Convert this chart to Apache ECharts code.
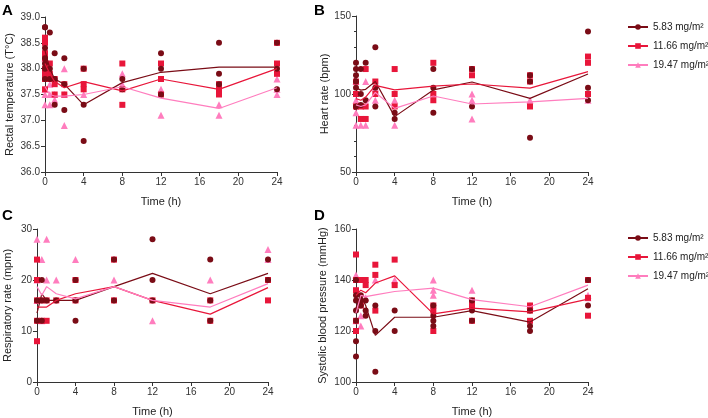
<!DOCTYPE html>
<html>
<head>
<meta charset="utf-8">
<script src="https://cdn.jsdelivr.net/npm/echarts@6/dist/echarts.min.js"></script>
<style>
  html, body { margin: 0; padding: 0; background: #fff; }
  #chart { width: 708px; height: 418px; }
</style>
</head>
<body>
<div id="chart"></div>
<script>
// sampling times (h), shared by every panel
const times = [0, 0.5, 1, 2, 4, 8, 12, 18, 24];
const doses = ["5.83 mg/m²", "11.66 mg/m²", "19.47 mg/m²"];

// A - rectal temperature, one list of values per time point
const tempLow = [[38.8, 38.8, 38.4, 38.2, 38.1, 38.0, 37.8], [38.7, 38.0, 37.8], [38.3, 37.8, 37.3], [38.2, 37.7, 37.2], [38.0, 37.3, 36.6], [37.8, 37.6], [38.3, 38.0, 37.5], [38.5, 37.9, 37.7], [38.5, 38.0, 37.6]];
const tempMid = [[38.6, 38.5, 38.3, 38.2, 38.0, 37.9, 37.8, 37.6], [38.1, 37.9, 37.8], [37.8, 37.7, 37.5], [37.7, 37.5], [38.0, 37.7, 37.6], [38.1, 37.6, 37.3], [38.1, 37.8, 37.5], [37.7, 37.6, 37.5], [38.5, 38.1, 37.9]];
const tempHigh = [[38.2, 37.6, 37.5, 37.3], [37.7, 37.5, 37.3], [37.5, 37.4], [38.0, 37.5, 36.9], [37.5], [37.9, 37.7], [37.6, 37.1], [37.3, 37.1], [37.8, 37.6, 37.5]];
const tempLowMean = [38.35, 38.0, 37.8, 37.7, 37.3, 37.73, 37.93, 38.03, 38.03];
const tempMidMean = [38.1, 37.9, 37.75, 37.63, 37.75, 37.57, 37.8, 37.6, 38.0];
const tempHighMean = [37.65, 37.5, 37.47, 37.47, 37.5, 37.65, 37.43, 37.23, 37.63];

// B - heart rate
const hrLow = [[120, 116, 112, 108, 104, 92], [116, 100, 93], [120, 96], [130, 104, 92], [88, 84], [116, 104, 88], [116, 92], [112, 108, 72], [140, 104, 96]];
const hrMid = [[108, 100, 92], [92, 84], [116, 92, 84], [108, 100], [116, 100, 92], [120, 100, 96], [116, 112], [112, 108, 92], [124, 120, 100]];
const hrHigh = [[108, 96, 88, 80], [80], [108, 80], [104, 96], [96, 80], [100], [100, 96, 84], [96], [96]];
const hrLowMean = [104, 102.5, 103, 108, 85.5, 102.6, 107.7, 97.2, 112.8];
const hrMidMean = [97, 96, 98, 105.5, 102.6, 105.1, 106.4, 103.8, 114.3];
const hrHighMean = [93, 92, 93, 101, 90.8, 98.7, 93.6, 94.9, 97.2];

// C - respiratory rate
const rrLow = [[16, 12], [20, 16, 12], [16], [16], [20, 16, 12], [24, 16], [28, 20, 16], [24, 16, 12], [24, 20]];
const rrMid = [[24, 20, 16, 12, 8], [16, 12], [16, 12], [16], [20, 16], [24, 16], [16], [16, 12], [20, 16]];
const rrHigh = [[28, 20, 16], [24, 12], [28, 20], [20], [24], [20], [12], [20], [26, 24]];
const rrLowMean = [13.5, 17.3, 16, 16, 16, 18.7, 21.3, 17.3, 21.3];
const rrMidMean = [14.7, 14.7, 14.7, 16, 17.3, 18.7, 16, 13.3, 18.5];
const rrHighMean = [18.7, 17, 18.7, 17.3, 16.3, 18.7, 16, 14.7, 19.3];

// D - systolic blood pressure
const sbpLow = [[140, 134, 132, 128, 124, 116, 110], [134, 132, 130], [132, 128, 126], [130, 120, 104], [128, 120], [130, 126, 124, 122], [132, 128, 124], [128, 122, 120], [140, 130]];
const sbpMid = [[150, 140, 136, 124, 120], [140, 130], [140, 138], [146, 142, 128], [148, 138], [130, 128, 120], [132, 130, 124], [130, 128, 124], [140, 133, 126]];
const sbpHigh = [[142, 124], [126, 122], [133], [140], [140], [140, 136, 134], [136], [130], [134, 133]];
const sbpLowMean = [129, 134, 130, 118.3, 125.4, 125.4, 128, 123.5, 136.6];
const sbpMidMean = [134, 136, 135, 138.8, 141.6, 126.7, 129, 127.5, 132.5];
const sbpHighMean = [127, 134, 133.5, 134.2, 135.5, 136.8, 132.3, 129.5, 138];

const colors = ["#7a0c16", "#e8163a", "#ff7dbe"];
const symbols = ["circle", "rect", "triangle"];
const font = "'Liberation Sans', Arial, sans-serif";

const panels = [
  { groups: [tempLow, tempMid, tempHigh], means: [tempLowMean, tempMidMean, tempHighMean] },
  { groups: [hrLow, hrMid, hrHigh], means: [hrLowMean, hrMidMean, hrHighMean] },
  { groups: [rrLow, rrMid, rrHigh], means: [rrLowMean, rrMidMean, rrHighMean] },
  { groups: [sbpLow, sbpMid, sbpHigh], means: [sbpLowMean, sbpMidMean, sbpHighMean] },
];

const toPoints = (cols) => {
  const out = [];
  cols.forEach((col, i) => col.forEach((v) => out.push([times[i], v])));
  return out;
};
const toLine = (m) => m.map((v, i) => [times[i], v]);

// 公共坐标轴样式
const axisBase = {
  axisLine: { show: true, onZero: false, lineStyle: { color: "#333", width: 1 } },
  axisTick: { show: true, length: 4, lineStyle: { color: "#333" } },
  axisLabel: { color: "#333", fontSize: 10, fontFamily: font, margin: 5 },
  splitLine: { show: false },
  nameTextStyle: { color: "#222", fontSize: 11, fontFamily: font },
};

const grids = [
  { left: 45, top: 17, width: 232, height: 155 },
  { left: 356, top: 16, width: 232, height: 156 },
  { left: 37, top: 229, width: 231, height: 154 },
  { left: 356, top: 229, width: 232, height: 154 },
];

const xAxes = grids.map((g, i) => ({
  ...axisBase,
  type: "value",
  gridIndex: i,
  min: 0,
  max: 24,
  interval: 4,
  name: "Time (h)",
  nameLocation: "middle",
  nameGap: 24,
}));

const yAxes = [
  { ...axisBase, type: "value", gridIndex: 0, min: 36, max: 39, interval: 0.5, name: "Rectal temperature (T°C)", nameLocation: "middle", nameGap: 30,
    axisLabel: { ...axisBase.axisLabel, formatter: (v) => v.toFixed(1) } },
  { ...axisBase, type: "value", gridIndex: 1, min: 50, max: 150, interval: 50, name: "Heart rate (bpm)", nameLocation: "middle", nameGap: 24,
    minorTick: { show: true, splitNumber: 5, length: 2, lineStyle: { color: "#333" } } },
  { ...axisBase, type: "value", gridIndex: 2, min: 0, max: 30, interval: 10, name: "Respiratory rate (mpm)", nameLocation: "middle", nameGap: 24 },
  { ...axisBase, type: "value", gridIndex: 3, min: 100, max: 160, interval: 20, name: "Systolic blood pressure (mmHg)", nameLocation: "middle", nameGap: 28 },
];

const series = [];
panels.forEach((p, pi) => {
  // 均值折线（放在前面，图例图标取自折线）
  p.means.forEach((m, g) => {
    series.push({
      type: "line",
      name: doses[g],
      xAxisIndex: pi,
      yAxisIndex: pi,
      data: toLine(m),
      symbol: symbols[g],
      symbolSize: 6,
      showSymbol: false,
      lineStyle: { color: colors[g], width: 1.2 },
      itemStyle: { color: colors[g] },
      z: 3,
      silent: true,
    });
  });
  // 个体散点
  p.groups.forEach((cols, g) => {
    series.push({
      type: "scatter",
      name: doses[g],
      xAxisIndex: pi,
      yAxisIndex: pi,
      data: toPoints(cols),
      symbol: symbols[g],
      symbolSize: g === 2 ? 7 : 6,
      itemStyle: { color: colors[g], opacity: 1 },
      z: 2 + (2 - g) * 0.1,
      silent: true,
    });
  });
});

// 图例 (legend 默认 padding 为 5，这里去掉)
const legendBase = {
  orient: "vertical",
  data: doses,
  padding: 0,
  itemWidth: 20,
  itemHeight: 7,
  itemGap: 9,
  selectedMode: false,
  textStyle: { color: "#222", fontSize: 10, fontFamily: font },
};

const option = {
  animation: false,
  backgroundColor: "#fff",
  grid: grids,
  xAxis: xAxes,
  yAxis: yAxes,
  legend: [
    { ...legendBase, left: 627, top: 22 },
    { ...legendBase, left: 627, top: 233 },
  ],
  graphic: [
    { type: "text", left: 2, top: 3, style: { text: "A", font: "bold 15px " + font, fill: "#000" } },
    { type: "text", left: 314, top: 3, style: { text: "B", font: "bold 15px " + font, fill: "#000" } },
    { type: "text", left: 2, top: 208, style: { text: "C", font: "bold 15px " + font, fill: "#000" } },
    { type: "text", left: 314, top: 208, style: { text: "D", font: "bold 15px " + font, fill: "#000" } },
  ],
  series: series,
};

const chart = echarts.init(document.getElementById("chart"), null, { renderer: "canvas" });
chart.setOption(option);
window.addEventListener("resize", () => {
  chart.resize();
});
</script>
</body>
</html>
